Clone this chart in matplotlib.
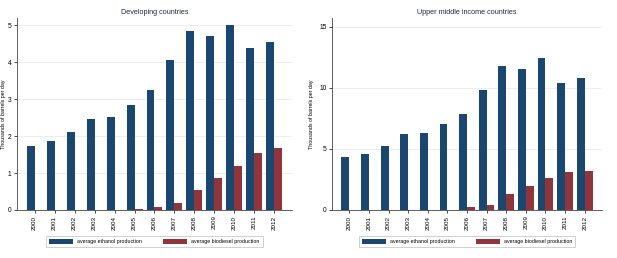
import matplotlib.pyplot as plt
import numpy as np

plt.rcParams['font.family'] = ['Liberation Sans', 'DejaVu Sans']

years = ["2000", "2001", "2002", "2003", "2004", "2005", "2006",
         "2007", "2008", "2009", "2010", "2011", "2012"]

# developing countries (thousands of barrels per day)
dev_ethanol = [1.74, 1.86, 2.10, 2.47, 2.52, 2.83, 3.24,
               4.05, 4.83, 4.70, 5.00, 4.37, 4.55]
dev_biodiesel = [0, 0, 0, 0, 0, 0.02, 0.09,
                 0.20, 0.54, 0.86, 1.19, 1.54, 1.68]

# upper middle income countries
umi_ethanol = [4.31, 4.61, 5.23, 6.18, 6.32, 7.05, 7.87,
               9.85, 11.80, 11.53, 12.39, 10.39, 10.80]
umi_biodiesel = [0, 0, 0, 0, 0, 0, 0.22,
                 0.43, 1.33, 1.98, 2.58, 3.09, 3.20]

blue = "#1a476f"
red = "#90353b"

fig = plt.figure(figsize=(6.17, 2.58), dpi=100)

panels = [
    ("Developing countries", dev_ethanol, dev_biodiesel,
     [17, 292], 5.19, [0, 1, 2, 3, 4, 5], 6),
    ("Upper middle income countries", umi_ethanol, umi_biodiesel,
     [332, 602], 15.7, [0, 5, 10, 15], 314),
]

W, H = 617.0, 258.0
for title, eth, bio, xr, ytop, yt, labx in panels:
    ax = fig.add_axes([xr[0] / W, 48 / H, (xr[1] - xr[0]) / W, 192 / H])
    x = np.arange(len(years))
    ax.bar(x - 0.2, eth, width=0.4, color=blue, label="average ethanol production")
    ax.bar(x + 0.2, bio, width=0.4, color=red, label="average biodiesel production")
    ax.set_xlim(-0.88, 12.88)
    ax.set_ylim(0, ytop)
    ax.set_yticks(yt)
    ax.set_xticks(x)
    ax.set_xticklabels(years, rotation=90, fontsize=4.5)
    ax.tick_params(axis='y', labelsize=4.8, length=2, width=0.5, pad=2)
    ax.tick_params(axis='x', length=2, width=0.5, pad=2)
    ax.grid(axis='y', color="#eaeaea", linewidth=0.6)
    ax.set_axisbelow(True)
    for s in ["top", "right"]:
        ax.spines[s].set_visible(False)
    for s in ["left", "bottom"]:
        ax.spines[s].set_color("#444444")
        ax.spines[s].set_linewidth(0.6)
    ax.set_title(title, fontsize=5.2, color="#1f2a44", pad=3)
    ax.set_ylabel("Thousands of barrels per day", fontsize=3.8)
    ax.yaxis.set_label_coords((labx - xr[0]) / (xr[1] - xr[0]), 0.5)
    leg = ax.legend(loc="upper center", bbox_to_anchor=(0.5, -0.12), ncol=2,
                    fontsize=3.8, frameon=True, fancybox=False,
                    handlelength=4.5, handleheight=1.0, columnspacing=4,
                    borderpad=0.6)
    leg.get_frame().set_edgecolor("#bbbbbb")
    leg.get_frame().set_linewidth(0.6)

fig.savefig("out.png", dpi=100)
